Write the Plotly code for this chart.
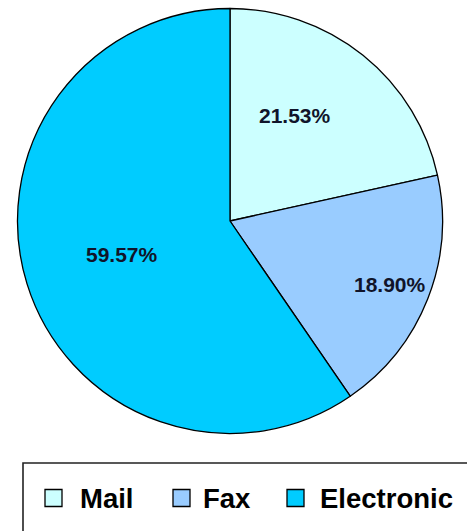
import math
import plotly.graph_objects as go

categories = ["Mail", "Fax", "Electronic"]
values = [21.53, 18.90, 59.57]
colors = ["#CCFFFF", "#99CCFF", "#00CCFF"]

# label placement styling (fraction of radius, angular nudge in degrees)
label_radius = [0.585, 0.81, 0.53]
label_nudge = [-7, 0, 0]

W, H = 467, 531
cx, cy, R = 230, 221, 212.5  # pie centre / radius in pixels

FONT = "Arial, Liberation Sans, sans-serif"

fig = go.Figure(go.Pie(
    labels=categories,
    values=values,
    sort=False,
    direction="clockwise",
    rotation=0,
    marker=dict(colors=colors, line=dict(color="#000000", width=1.3)),
    textinfo="none",
    hoverinfo="label+percent",
    showlegend=False,
    domain=dict(x=[(cx - R) / W, (cx + R) / W], y=[1 - (cy + R) / H, 1 - (cy - R) / H]),
))

# data labels placed on each slice
total = sum(values)
cum = 0.0
annotations = []
for v, rf, nd in zip(values, label_radius, label_nudge):
    mid = (cum + v / 2) / total * 2 * math.pi + math.radians(nd)
    cum += v
    px = cx + rf * R * math.sin(mid)
    py = cy - rf * R * math.cos(mid)
    annotations.append(dict(
        x=px / W, y=1 - py / H, xref="paper", yref="paper",
        xanchor="center", yanchor="middle",
        text=f"<b>{v:.2f}%</b>", showarrow=False,
        font=dict(family=FONT, size=21, color="#10142a"),
    ))

# legend drawn as swatches + real text
swatch_x = [45, 173, 287]
text_x = [79, 202, 319]
legend_y = 498
shapes = [dict(
    type="rect", xref="paper", yref="paper",
    x0=23 / W, x1=1.02, y0=-0.02, y1=1 - 463 / H,
    line=dict(color="#222222", width=1.6), fillcolor="rgba(0,0,0,0)",
)]
for cat, col, sx, tx in zip(categories, colors, swatch_x, text_x):
    shapes.append(dict(
        type="rect", xref="paper", yref="paper",
        x0=sx / W, x1=(sx + 17) / W, y0=1 - (legend_y + 8.5) / H, y1=1 - (legend_y - 8.5) / H,
        line=dict(color="#000000", width=1.3), fillcolor=col,
    ))
    annotations.append(dict(
        x=(tx - 1) / W, y=1 - legend_y / H, xref="paper", yref="paper",
        xanchor="left", yanchor="middle",
        text=f"<b>{cat}</b>", showarrow=False,
        font=dict(family=FONT, size=27.5, color="#000000"),
    ))

fig.update_layout(
    width=W, height=H,
    margin=dict(l=0, r=0, t=0, b=0),
    paper_bgcolor="white",
    plot_bgcolor="white",
    showlegend=False,
    annotations=annotations,
    shapes=shapes,
)

fig.write_html(
    "out.html",
    config={"displayModeBar": False},
    post_script="document.body.style.margin='0px';document.body.style.overflow='hidden';",
)
